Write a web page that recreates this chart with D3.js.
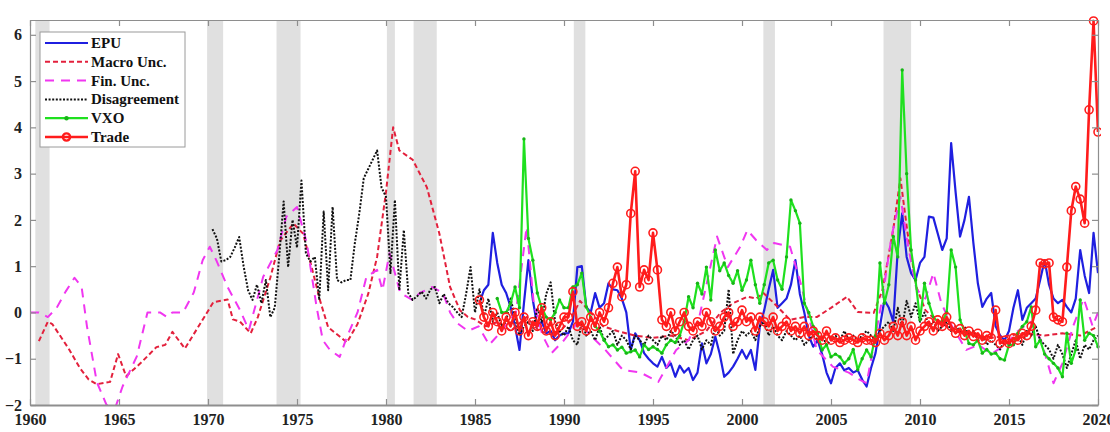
<!DOCTYPE html>
<html>
<head>
<meta charset="utf-8">
<script src="https://cdn.jsdelivr.net/npm/d3@7"></script>
<style>
  body { margin: 0; background: #fff; }
  svg { display: block; }
  svg text { font-family: "Liberation Serif", "Times New Roman", serif; }
  .axis text { font-size: 16px; font-weight: bold; fill: #222; }
  .axis path, .axis line { stroke: #8e8e8e; stroke-width: 1.2; }
  .axis.bottom path { stroke-width: 2; }
  .legend text { font-size: 15px; font-weight: bold; fill: #111; }
</style>
</head>
<body>
<svg width="1110" height="432"></svg>
<script>
// tick labels
const xTickYears = [1960, 1965, 1970, 1975, 1980, 1985, 1990, 1995, 2000, 2005, 2010, 2015, 2020];
const yTickValues = [-2, -1, 0, 1, 2, 3, 4, 5, 6];

const seriesNames = ["EPU", "Macro Unc.", "Fin. Unc.", "Disagreement", "VXO", "Trade"];

// NBER recessions (start, end)
const recessions = [
  [1960.3, 1961.1], [1969.95, 1970.85], [1973.85, 1975.2], [1980.05, 1980.5],
  [1981.55, 1982.85], [1990.55, 1991.2], [2001.2, 2001.85], [2007.95, 2009.5]
];

// quarterly series, one row per year (Q1..Q4), first value at the start position
const epuStart = 1985.25;
const epuValues = [
  0.2, 0.48, 0.6, 1.72,      // 1985
  1.07, 0.6, 0.42, 0.12,
  -0.3, -0.81, 0.2, 1.13,
  0.27, -0.3, -0.2, -0.45,
  -0.4, -0.6, -0.5, -0.45,
  -0.45, -0.2, 0.98, 1.0,    // 1990
  0.12, 0.0, 0.42, 0.1,
  0.2, 0.63, 0.5, 0.48,
  0.3, 0.0, -0.81, -0.45,
  -0.6, -0.88, -1.0, -1.1,
  -1.17, -0.96, -1.2, -1.1,  // 1995
  -1.39, -1.15, -1.3, -1.2,
  -1.46, -1.3, -0.67, -1.1,
  -0.9, -0.52, -0.9, -1.39,
  -1.3, -1.17, -1.0, -0.81,
  -1.0, -0.81, -1.24, -0.3,  // 2000
  0.05, 0.5, 0.92, 0.1,
  0.2, 0.3, 0.6, 1.13,
  0.4, 0.0, -0.5, -0.74,
  -0.6, -0.9, -1.3, -1.53,
  -1.2, -1.1, -1.25, -1.2,   // 2005
  -1.3, -1.25, -1.45, -1.6,
  -1.2, -0.88, -0.3, 0.27,
  0.1, -0.2, 1.35, 2.14,
  1.2, 0.85, 0.7, 1.07,
  1.2, 2.07, 2.05, 1.7,      // 2010
  1.35, 1.6, 3.66, 2.6,
  1.64, 2.0, 2.5, 1.5,
  0.63, 0.12, 0.3, 0.42,
  -0.3, -0.5, -0.6, -0.4,
  0.1, 0.48, -0.16, 0.1,     // 2015
  0.2, 0.3, 0.7, 1.13,
  0.6, 0.3, 0.2, 0.27,
  0.12, 0.0, 0.3, 1.35,
  0.8, 0.42, 1.72, 0.85
];

const vxoStart = 1986.25;
const vxoValues = [
  0.3, 0.0, 0.0, 0.2,        // 1986
  0.55, 0.1, 3.75, 1.6,
  1.13, 0.42, 0.1, -0.1,
  -0.16, 0.0, 0.27, 0.1,
  0.1, 0.55, 0.6, 0.85,      // 1990
  0.12, -0.1, -0.3, -0.4,
  -0.6, -0.74, -0.7, -0.81,
  -0.75, -0.88, -0.85, -0.81,
  -0.96, -0.7, -0.8, -0.74,
  -0.8, -0.88, -0.7, -0.6,   // 1995
  -0.65, -0.5, -0.2, 0.34,
  0.1, 0.63, 0.4, 0.98,
  0.27, 1.35, 0.9, 1.07,
  0.8, 0.63, 0.9, 0.48,
  0.7, 1.13, 0.6, 0.2,       // 2000
  0.6, 1.07, 1.13, 0.7,
  0.5, 1.2, 2.43, 2.2,
  1.93, 0.2, 0.0, -0.3,
  -0.45, -0.81, -0.7, -0.96,
  -0.9, -0.96, -1.1, -1.0,   // 2005
  -0.8, -1.24, -1.0, -0.81,
  -0.96, -0.5, 1.07, 0.2,
  0.6, 1.64, 1.2, 5.24,
  3.0, 1.35, 0.7, -0.16,
  0.63, 0.2, -0.1, -0.2,     // 2010
  -0.2, 0.0, 1.35, 0.98,
  -0.16, -0.4, -0.67, -0.7,
  -0.6, -0.88, -0.8, -0.9,
  -0.88, -1.0, -1.03, -0.7,
  -0.7, -0.45, -0.3, -0.2,   // 2015
  0.12, -0.74, -0.6, -0.9,
  -1.0, -1.1, -1.2, -1.39,
  -0.45, -1.1, -0.8, 0.27,
  -0.6, -0.45, -0.5, -0.74
];

const tradeStart = 1985.25;
const tradeValues = [
  0.27, -0.1, -0.3, 0.0,     // 1985
  -0.2, -0.4, -0.1, -0.3,
  0.0, -0.4, -0.1, -0.5,
  -0.2, -0.3, 0.1, -0.4,
  -0.2, -0.5, -0.3, -0.1,
  -0.1, 0.45, -0.3, -0.2,    // 1990
  -0.4, -0.1, -0.3, 0.0,
  -0.2, 0.1, 0.63, 0.98,
  0.34, 0.6, 2.14, 3.05,
  0.55, 0.92, 0.7, 1.72,
  0.92, -0.16, -0.3, 0.0,    // 1995
  -0.4, -0.2, 0.0, -0.3,
  -0.4, -0.2, -0.3, 0.0,
  -0.2, -0.4, -0.3, -0.1,
  0.0, -0.3, -0.2, 0.05,
  -0.2, -0.1, -0.4, -0.1,    // 2000
  -0.2, -0.3, -0.1, -0.4,
  -0.3, -0.2, -0.4, -0.3,
  -0.45, -0.3, -0.5, -0.4,
  -0.5, -0.6, -0.4, -0.6,
  -0.55, -0.65, -0.6, -0.55, // 2005
  -0.6, -0.65, -0.55, -0.6,
  -0.6, -0.65, -0.45, -0.6,
  -0.5, -0.3, -0.5, -0.2,
  -0.5, -0.3, -0.6, -0.4,
  -0.3, -0.2, -0.4, -0.16,   // 2010
  -0.3, -0.1, -0.3, -0.45,
  -0.35, -0.5, -0.4, -0.52,
  -0.45, -0.6, -0.5, -0.55,
  0.05, -0.67, -0.6, -0.67,
  -0.55, -0.6, -0.45, -0.5,  // 2015
  -0.3, 0.05, 1.07, 1.05,
  1.07, -0.1, -0.16, -0.2,
  0.98, 2.2, 2.72, 2.45,
  1.93, 4.38, 6.3, 3.9
];

const disagreeStart = 1970.25;
const disagreeValues = [
  1.8, 1.6, 1.1, 1.13,       // 1970
  1.2, 1.4, 1.63, 1.0,
  0.48, 0.27, 0.6, 0.2,
  0.7, -0.1, 0.1, 1.2,
  2.4, 0.98, 2.0, 1.4,
  2.85, 1.28, 1.1, 1.2,      // 1975
  0.27, 2.18, 0.48, 2.28,
  0.7, 0.65, 0.7, 0.7,
  1.5, 2.14, 2.9, 3.1,
  3.3, 3.5, 2.7, 2.5,
  0.85, 2.43, 0.48, 1.78,    // 1980
  0.42, 0.27, 0.35, 0.45,
  0.3, 0.5, 0.55, 0.2,
  0.4, 0.2, 0.12, 0.0,
  -0.1, 0.4, 0.98, 0.0,
  0.5, -0.1, 0.3, -0.2,      // 1985
  0.0, -0.3, -0.2, 0.3,
  -0.1, -0.5, -0.3, -0.2,
  -0.4, 0.1, -0.2, 0.4,
  0.65, -0.2, -0.4, -0.5,
  -0.3, -0.6, -0.7, -0.2,    // 1990
  -0.5, -0.4, -0.6, -0.3,
  -0.6, -0.5, -0.4, -0.7,
  -0.5, -0.6, -0.8, -0.5,
  -0.6, -0.7, -0.5, -0.6,
  -0.7, -0.5, -0.6, -0.4,    // 1995
  -0.5, -0.7, -0.6, -0.8,
  -0.6, -0.5, -0.8, -0.6,
  -0.7, -0.3, -0.5, -0.4,
  0.5, -0.9, -0.6, -0.4,
  -0.5, -0.4, -0.6, -0.3,    // 2000
  -0.2, -0.5, -0.3, -0.5,
  -0.6, -0.4, -0.5, -0.6,
  -0.5, -0.7, -0.6, -0.5,
  -0.6, -0.5, -0.7, -0.6,
  -0.5, -0.6, -0.4, -0.6,    // 2005
  -0.5, -0.6, -0.5, -0.4,
  -0.5, -0.6, -0.4, -0.3,
  -0.2, -0.4, 0.1, -0.3,
  0.25, -0.1, 0.2, -0.2,
  0.0, -0.3, -0.2, -0.4,     // 2010
  -0.3, -0.2, -0.4, -0.3,
  -0.4, -0.3, -0.5, -0.4,
  -0.6, -0.5, -0.7, -0.6,
  -0.7, -0.8, -0.6, -0.7,
  -0.6, -0.5, -0.7, -0.4,    // 2015
  -0.5, -0.3, -0.6, -0.7,
  -0.8, -1.0, -0.7, -0.9,
  -1.2, -0.9, -0.6, -1.0,
  -0.7, -0.8, -0.6, -0.5
];

// smooth series read as [year, value] knots
const macroPoints = [
  [1960.5, -0.62], [1961.0, -0.2], [1961.25, -0.25], [1961.6, -0.45], [1962.2, -0.8],
  [1962.8, -1.2], [1963.3, -1.45], [1963.75, -1.55], [1964.5, -1.5], [1964.95, -0.9],
  [1965.4, -1.38], [1966.2, -1.1], [1967.1, -0.75], [1967.6, -0.7], [1968.0, -0.42],
  [1968.7, -0.78], [1969.55, -0.25], [1970.3, 0.22], [1971.1, 0.28], [1971.4, -0.15],
  [1971.8, -0.2], [1972.4, -0.45], [1972.8, -0.1], [1973.5, 0.75], [1974.05, 1.55],
  [1974.8, 1.92], [1975.35, 1.7], [1976.3, 0.25], [1976.75, -0.32], [1977.4, -0.52],
  [1977.8, -0.65], [1978.4, -0.25], [1979.0, 0.4], [1979.5, 1.2], [1980.0, 2.6],
  [1980.4, 4.0], [1980.75, 3.5], [1981.5, 3.3], [1982.3, 2.7], [1983.0, 1.7],
  [1983.6, 0.55], [1984.15, 0.05], [1984.6, -0.1], [1985.0, -0.15], [1985.6, -0.3],
  [1986.3, -0.2], [1987.0, -0.4], [1987.9, -0.1], [1988.6, -0.4], [1989.5, -0.5],
  [1990.3, -0.2], [1990.9, 0.25], [1991.5, 0.0], [1992.2, -0.3], [1993.0, -0.4],
  [1994.0, -0.5], [1995.0, -0.55], [1996.0, -0.5], [1997.0, -0.6], [1998.0, -0.4],
  [1998.8, 0.0], [1999.5, 0.2], [2000.3, 0.34], [2000.8, 0.3], [2001.2, 0.42],
  [2001.8, 0.2], [2002.7, -0.16], [2003.5, -0.1], [2004.2, -0.1], [2005.0, 0.1],
  [2005.9, 0.34], [2006.5, 0.01], [2007.4, -0.01], [2007.9, 0.5], [2008.5, 1.8],
  [2008.9, 2.9], [2009.3, 1.72], [2009.8, 0.55], [2010.3, 0.05], [2011.0, -0.2],
  [2012.0, -0.4], [2013.0, -0.5], [2014.0, -0.55], [2015.0, -0.5], [2016.0, -0.45],
  [2017.0, -0.5], [2018.0, -0.45], [2019.0, -0.5], [2020.0, -0.3]
];

const finPoints = [
  [1960.0, 0.0], [1960.5, 0.0], [1961.0, -0.1], [1961.5, 0.1], [1962.0, 0.45],
  [1962.5, 0.75], [1962.9, 0.55], [1963.2, -0.3], [1963.75, -1.5], [1964.3, -2.0],
  [1964.8, -2.05], [1965.2, -1.6], [1966.0, -0.95], [1966.6, 0.0], [1967.3, 0.0],
  [1967.7, -0.1], [1968.0, 0.0], [1968.6, 0.0], [1969.2, 0.43], [1969.7, 1.13],
  [1970.1, 1.42], [1970.5, 1.1], [1971.1, 0.55], [1971.8, 0.05], [1972.3, -0.38],
  [1973.1, 0.77], [1973.9, 1.35], [1974.4, 2.07], [1975.0, 2.28], [1975.55, 1.5],
  [1976.1, 0.12], [1976.45, -0.6], [1976.85, -0.81], [1977.4, -0.96], [1977.8, -0.53],
  [1978.4, 0.0], [1978.9, 0.77], [1979.5, 0.92], [1979.8, 0.48], [1980.2, 1.28],
  [1980.8, 0.42], [1981.5, 0.27], [1981.9, 0.42], [1982.6, 0.55], [1983.2, 0.42],
  [1983.6, 0.0], [1984.0, -0.23], [1984.6, -0.4], [1985.2, -0.3], [1985.8, -0.7],
  [1986.5, -0.4], [1987.3, 0.0], [1987.9, 1.85], [1988.3, 0.2], [1988.8, -0.5],
  [1989.3, -0.88], [1990.0, -0.6], [1990.8, -0.2], [1991.5, -0.5], [1992.3, -0.8],
  [1993.3, -1.24], [1994.3, -1.3], [1995.3, -1.5], [1996.3, -0.81], [1997.0, -0.6],
  [1997.6, -0.1], [1998.6, 1.64], [1999.2, 0.98], [1999.9, 1.42], [2000.3, 1.78],
  [2000.8, 1.56], [2001.4, 1.35], [2001.8, 1.5], [2002.7, 1.42], [2003.3, 0.63],
  [2004.2, -0.81], [2005.1, -1.17], [2006.0, -1.3], [2006.6, -1.45], [2007.0, -1.53],
  [2007.5, -0.5], [2007.9, 0.34], [2008.4, 1.64], [2008.9, 2.5], [2009.3, 1.5],
  [2009.8, 0.5], [2010.3, 0.3], [2010.75, 0.85], [2011.2, 0.2], [2011.8, -0.3],
  [2012.6, -0.81], [2013.3, -0.7], [2014.0, -0.9], [2014.8, -0.7], [2015.5, -0.4],
  [2016.2, -0.2], [2016.8, -0.6], [2017.5, -1.53], [2018.0, -1.1], [2018.6, -0.3],
  [2019.2, 0.3], [2019.7, -0.3], [2020.0, 0.0]
];

function quarterly(start, values) {
  return values.map((v, i) => [start + i * 0.25, v]);
}

var svg = d3.select("svg"),
  plotLeft = 30, plotRight = 1098, plotTop = 20, plotBottom = 405;

var x = d3.scaleLinear().domain([1960, 2020]).range([plotLeft, plotRight]);
var y = d3.scaleLinear().domain([-2, 6.32]).range([plotBottom, plotTop]);

svg.append("defs").append("clipPath").attr("id", "plot")
  .append("rect")
  .attr("x", plotLeft).attr("y", plotTop - 5)
  .attr("width", plotRight - plotLeft + 3).attr("height", plotBottom - plotTop + 5);

// recession bands
svg.append("g")
  .selectAll("rect")
  .data(recessions)
  .enter()
  .append("rect")
  .attr("x", d => x(d[0]))
  .attr("y", plotTop)
  .attr("width", d => x(d[1]) - x(d[0]))
  .attr("height", plotBottom - plotTop)
  .attr("fill", "#e0e0e0");

var styles = [
  { data: quarterly(epuStart, epuValues), color: "#1f1fe0", width: 2.2, dash: null },
  { data: macroPoints, color: "#e3203c", width: 2, dash: "5,3" },
  { data: finPoints, color: "#f036f0", width: 2, dash: "9,7" },
  { data: quarterly(disagreeStart, disagreeValues), color: "#111", width: 2, dash: "2,1.6" },
  { data: quarterly(vxoStart, vxoValues), color: "#1fe01f", width: 2.2, dash: null, dot: true },
  { data: quarterly(tradeStart, tradeValues), color: "#ff1c1c", width: 2.6, dash: null, ring: true }
];

var line = d3.line()
  .x(d => x(d[0]))
  .y(d => y(d[1]));

var plot = svg.append("g").attr("clip-path", "url(#plot)");

styles.forEach((s, i) => {
  plot.append("path")
    .datum(s.data)
    .attr("class", `line-${i}`)
    .attr("d", line)
    .attr("fill", "none")
    .attr("stroke", s.color)
    .attr("stroke-width", s.width)
    .attr("stroke-dasharray", s.dash)
    .attr("stroke-linejoin", "round");
  if (s.dot) {
    plot.append("g")
      .selectAll("circle")
      .data(s.data)
      .enter()
      .append("circle")
      .attr("cx", d => x(d[0]))
      .attr("cy", d => y(d[1]))
      .attr("r", 1.7)
      .attr("fill", "#17b517");
  }
  if (s.ring) {
    plot.append("g")
      .selectAll("circle")
      .data(s.data)
      .enter()
      .append("circle")
      .attr("cx", d => x(d[0]))
      .attr("cy", d => y(d[1]))
      .attr("r", 4)
      .attr("fill", "none")
      .attr("stroke", s.color)
      .attr("stroke-width", 1.6);
  }
});

// axes, ticks pointing inwards like matlab
svg.append("g")
  .attr("class", "axis bottom")
  .attr("transform", `translate(0,${plotBottom})`)
  .call(d3.axisBottom(x).tickValues(xTickYears).tickFormat(d3.format("d")).tickSizeInner(-6).tickSizeOuter(0).tickPadding(9));
svg.append("g")
  .attr("class", "axis")
  .attr("transform", `translate(0,${plotTop})`)
  .call(d3.axisTop(x).tickValues(xTickYears).tickFormat("").tickSizeInner(-6).tickSizeOuter(0));
svg.append("g")
  .attr("class", "axis")
  .attr("transform", `translate(${plotLeft},0)`)
  .call(d3.axisLeft(y).tickValues(yTickValues).tickSizeInner(-6).tickSizeOuter(0).tickPadding(8));
svg.append("g")
  .attr("class", "axis")
  .attr("transform", `translate(${plotRight},0)`)
  .call(d3.axisRight(y).tickValues(yTickValues).tickFormat("").tickSizeInner(-6).tickSizeOuter(0));

// legend
var lg = svg.append("g").attr("class", "legend");
lg.append("rect")
  .attr("x", 40).attr("y", 32)
  .attr("width", 145).attr("height", 115)
  .attr("fill", "#fff")
  .attr("stroke", "#9a9a9a");

var items = lg.selectAll(".legendItem")
  .data(seriesNames)
  .enter()
  .append("g")
  .attr("class", "legendItem")
  .attr("transform", (d, i) => `translate(0,${43 + i * 18.8})`);

items.append("line")
  .attr("x1", 45).attr("x2", 88)
  .attr("y1", 0).attr("y2", 0)
  .attr("stroke", (d, i) => styles[i].color)
  .attr("stroke-width", (d, i) => styles[i].width)
  .attr("stroke-dasharray", (d, i) => styles[i].dash);

items.filter((d, i) => styles[i].dot)
  .append("circle")
  .attr("cx", 66.5).attr("cy", 0).attr("r", 2.2)
  .attr("fill", "#17b517");
items.filter((d, i) => styles[i].ring)
  .append("circle")
  .attr("cx", 66.5).attr("cy", 0).attr("r", 3.6)
  .attr("fill", "none")
  .attr("stroke", "#ff1c1c")
  .attr("stroke-width", 2.4);

items.append("text")
  .attr("x", 91)
  .attr("y", 5)
  .text(d => d);
</script>
</body>
</html>
